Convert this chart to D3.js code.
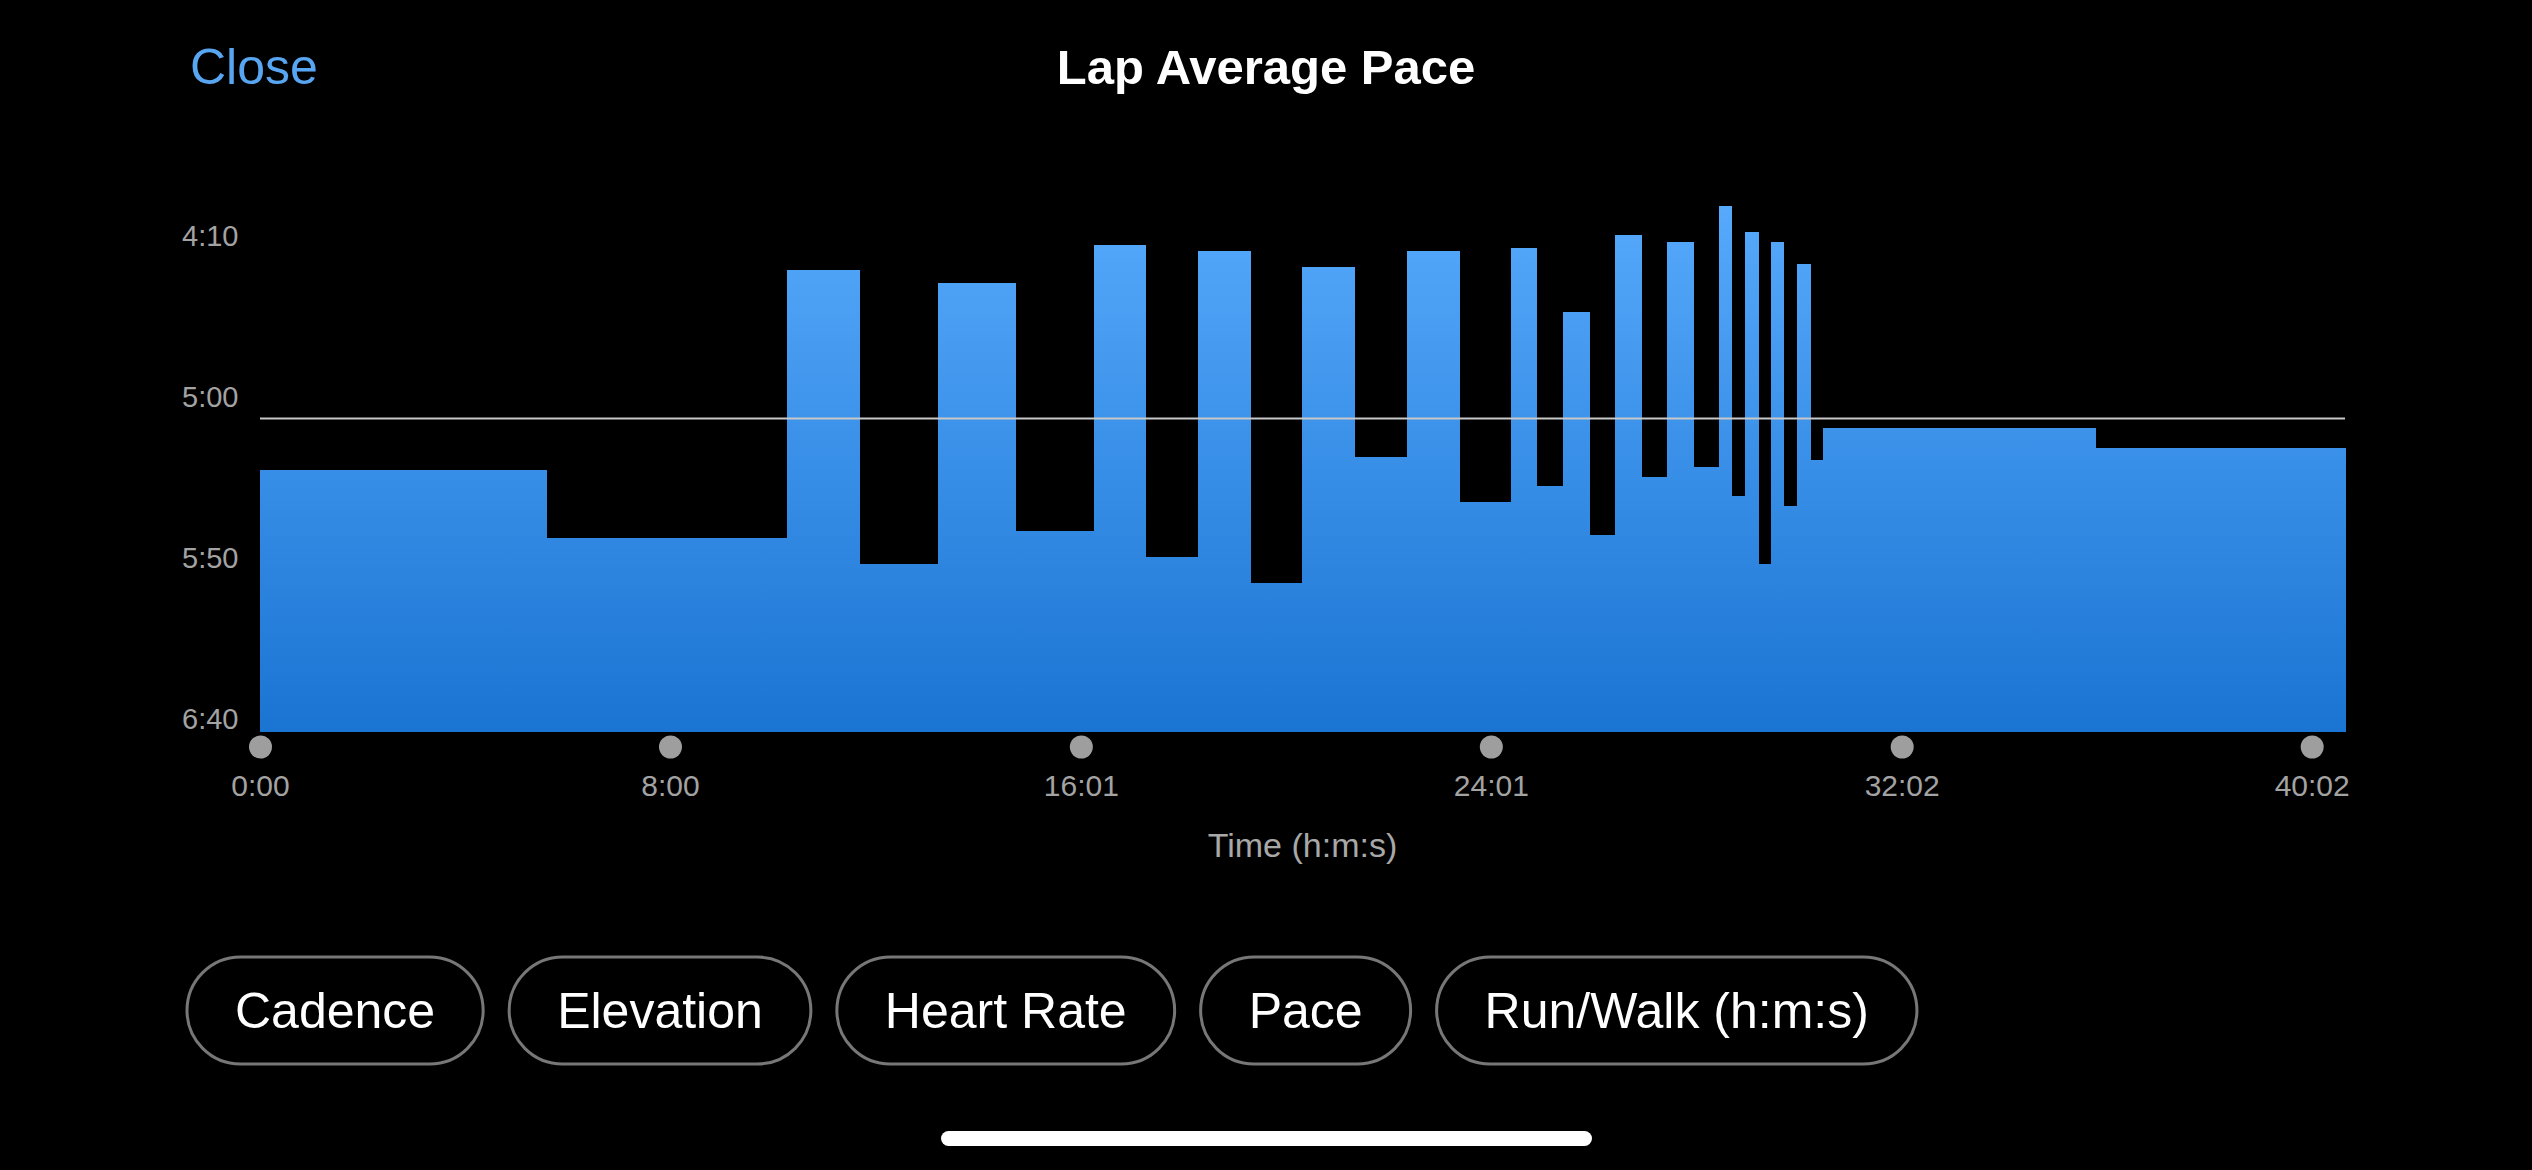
<!DOCTYPE html>
<html>
<head>
<meta charset="utf-8">
<title>Lap Average Pace</title>
<script src="https://cdn.jsdelivr.net/npm/d3@7"></script>
<style>
  html, body { margin: 0; padding: 0; background: #000; }
  svg { display: block; font-family: "Liberation Sans", Arial, Helvetica, sans-serif; }
</style>
</head>
<body>
<div id="chart"></div>
<script>
// Lap Average Pace - step chart of lap paces over elapsed time

// lap durations in seconds, in order
const lapDurations = [336, 281, 85, 92, 91, 91, 61, 61, 62, 60, 61, 62, 61, 61,
    30, 30, 31, 30, 31, 30, 31, 30, 15, 16, 15, 15, 15, 15, 16, 15, 319, 292];
// lap average pace in seconds per km
const lapPaces = [316, 337, 254, 345, 258, 335, 246, 343, 248, 351, 253, 312, 248, 326,
    247, 321, 267, 336, 243, 318, 245, 315, 234, 324, 242, 345, 245, 327, 252, 313, 303, 309];

const xTickSeconds = [0, 480, 961, 1441, 1922, 2402];
const yTickSeconds = [250, 300, 350, 400];
const referencePace = 300;
const buttonLabels = ["Cadence", "Elevation", "Heart Rate", "Pace", "Run/Walk (h:m:s)"];

const width = 2532;
const height = 1170;
const plotLeft = 260;
const plotRight = 2345;
const plotBottom = 732;

const fmt = s => `${Math.floor(s / 60)}:${String(Math.round(s % 60)).padStart(2, "0")}`;

// build lap table with start/end times
let t = 0;
const laps = lapDurations.map((d, i) => {
    const lap = {start: t, end: t + d, pace: lapPaces[i]};
    t += d;
    return lap;
});
const totalTime = t;

const svg = d3.select("#chart")
    .append("svg")
    .attr("width", width)
    .attr("height", height)
    .attr("viewBox", `0 0 ${width} ${height}`);

svg.append("rect")
    .attr("width", width)
    .attr("height", height)
    .attr("fill", "#000");

const xScale = d3.scaleLinear()
    .domain([0, totalTime])
    .range([plotLeft, plotRight]);

const yScale = d3.scaleLinear()
    .domain([250, 400])
    .range([257.6, 740.6]);

// vertical gradient shared by all bars
const grad = svg.append("defs").append("linearGradient")
    .attr("id", "barGrad")
    .attr("gradientUnits", "userSpaceOnUse")
    .attr("x1", 0).attr("x2", 0)
    .attr("y1", 200).attr("y2", plotBottom);
grad.append("stop").attr("offset", "0%").attr("stop-color", "#57aafc");
grad.append("stop").attr("offset", "100%").attr("stop-color", "#1a74d2");

// header
svg.append("text")
    .attr("x", 190)
    .attr("y", 84)
    .attr("font-size", 50)
    .attr("fill", "#58a6f2")
    .text("Close");

svg.append("text")
    .attr("x", width / 2)
    .attr("y", 84)
    .attr("text-anchor", "middle")
    .attr("font-size", 49)
    .attr("font-weight", "bold")
    .attr("fill", "#fff")
    .text("Lap Average Pace");

// bars
svg.append("g")
    .selectAll("rect")
    .data(laps)
    .join("rect")
    .attr("x", d => xScale(d.start))
    .attr("width", d => xScale(d.end) - xScale(d.start) + 0.5)
    .attr("y", d => yScale(d.pace))
    .attr("height", d => plotBottom - yScale(d.pace))
    .attr("fill", "url(#barGrad)")
    .attr("shape-rendering", "crispEdges");

// reference line
svg.append("line")
    .attr("x1", plotLeft)
    .attr("x2", plotRight)
    .attr("y1", yScale(referencePace))
    .attr("y2", yScale(referencePace))
    .attr("stroke", "#c8c8c8")
    .attr("stroke-width", 2);

// y axis labels sit above their value
const yAxis = d3.axisRight(yScale)
    .tickValues(yTickSeconds)
    .tickFormat(fmt)
    .tickSize(0)
    .tickPadding(0);

const yAxisG = svg.append("g")
    .attr("transform", "translate(182, 0)")
    .call(yAxis);
yAxisG.select(".domain").remove();
yAxisG.selectAll("text")
    .attr("x", 0)
    .attr("y", -12)
    .attr("dy", 0)
    .attr("font-size", 29)
    .attr("font-family", "Liberation Sans, Arial, sans-serif")
    .attr("fill", "#a3a3a3");

// x axis with dots for ticks
const xAxis = d3.axisBottom(xScale)
    .tickValues(xTickSeconds)
    .tickFormat(fmt)
    .tickSize(0)
    .tickPadding(0);

const xAxisG = svg.append("g")
    .attr("transform", `translate(0, ${plotBottom})`)
    .call(xAxis);
xAxisG.select(".domain").remove();
xAxisG.selectAll(".tick line").remove();
xAxisG.selectAll(".tick")
    .append("circle")
    .attr("cy", 15)
    .attr("r", 11.5)
    .attr("fill", "#9e9e9e");
xAxisG.selectAll("text")
    .attr("y", 64)
    .attr("dy", 0)
    .attr("font-size", 30)
    .attr("font-family", "Liberation Sans, Arial, sans-serif")
    .attr("fill", "#a3a3a3");

svg.append("text")
    .attr("x", (plotLeft + plotRight) / 2)
    .attr("y", 857)
    .attr("text-anchor", "middle")
    .attr("font-size", 34)
    .attr("fill", "#a8a8a8")
    .text("Time (h:m:s)");

// metric buttons
const btnY = 957;
const btnH = 107;
const btnPad = 48;
const btnGap = 26;
let bx = 187;
buttonLabels.forEach(label => {
    const g = svg.append("g");
    const txt = g.append("text")
        .attr("y", 1028)
        .attr("font-size", 50)
        .attr("fill", "#fff")
        .text(label);
    const tw = txt.node().getComputedTextLength();
    const bw = tw + btnPad * 2;
    g.insert("rect", "text")
        .attr("x", bx)
        .attr("y", btnY)
        .attr("width", bw)
        .attr("height", btnH)
        .attr("rx", btnH / 2)
        .attr("fill", "none")
        .attr("stroke", "#777")
        .attr("stroke-width", 3);
    txt.attr("x", bx + bw / 2).attr("text-anchor", "middle");
    bx += bw + btnGap;
});

// home indicator
svg.append("rect")
    .attr("x", 941)
    .attr("y", 1131)
    .attr("width", 651)
    .attr("height", 15)
    .attr("rx", 7.5)
    .attr("fill", "#fff");
</script>
</body>
</html>
